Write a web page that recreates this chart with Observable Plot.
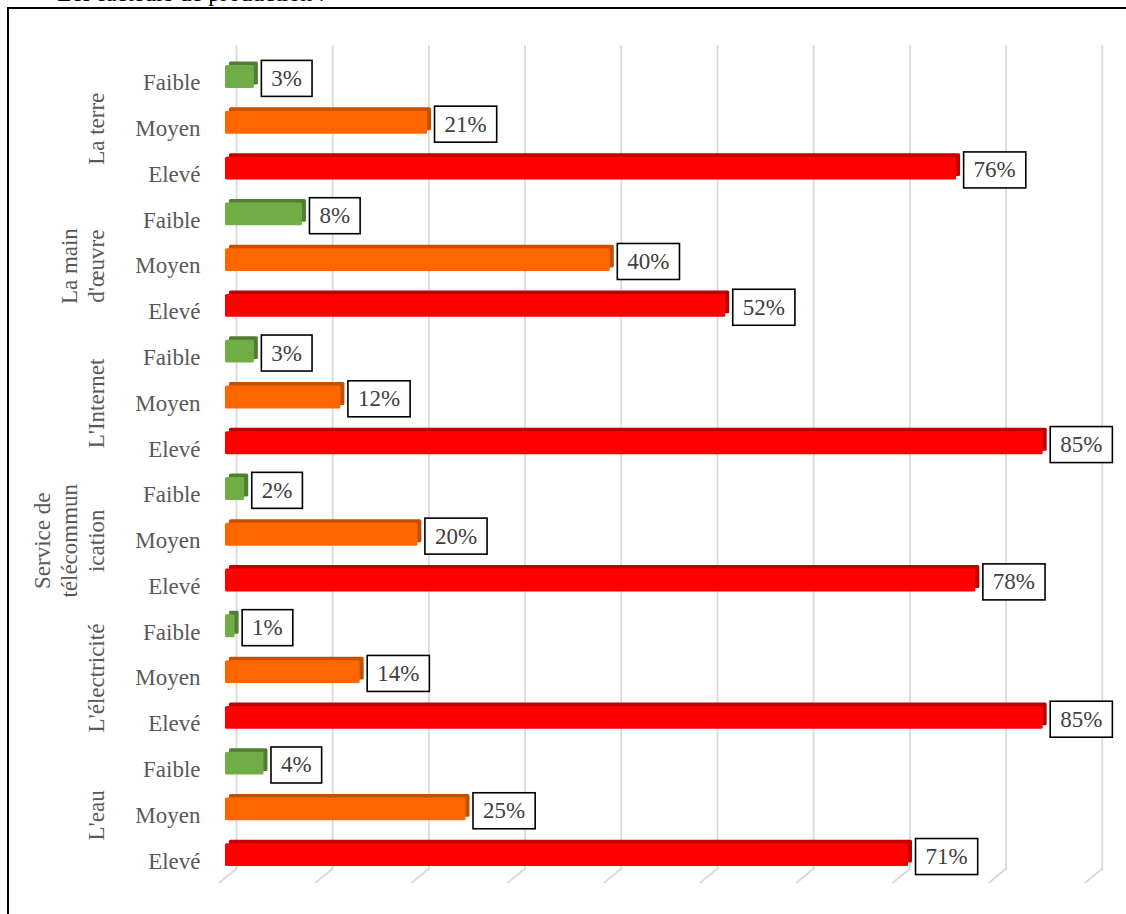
<!DOCTYPE html>
<html>
<head>
<meta charset="utf-8">
<script src="https://cdn.jsdelivr.net/npm/d3@7"></script>
<script src="https://cdn.jsdelivr.net/npm/@observablehq/plot@0.6"></script>
<style>
  html, body { margin: 0; padding: 0; background: #fff; }
  #wrap { position: relative; width: 1126px; height: 914px; overflow: hidden; }
  #title { position: absolute; left: 57px; top: -19.5px; font: 24px "Liberation Serif", "Times New Roman", serif; color: #000; line-height: 24px; white-space: nowrap; }
  #box { position: absolute; left: 7px; top: 7px; width: 2000px; height: 2000px; border-left: 2px solid #000; border-top: 2px solid #000; }
  #chart { position: absolute; left: 0; top: 0; }
  #chart svg text { font-family: "Liberation Serif", "Times New Roman", serif; }
</style>
</head>
<body>
<div id="wrap">
  <div id="title">Les facteurs de production :</div>
  <div id="box"></div>
  <div id="chart"></div>
</div>
<script>
// ---- data ----
const groups = ["La terre", "La main d'œuvre", "L'Internet", "Service de télécommunication", "L'électricité", "L'eau"];
const groupLabels = ["La terre", "La main\nd'œuvre", "L'Internet", "Service de\ntélécommun\nication", "L'électricité", "L'eau"];
const levels = ["Faible", "Moyen", "Elevé"];
const faible = [3, 8, 3, 2, 1, 4];
const moyen = [21, 40, 12, 20, 14, 25];
const eleve = [76, 52, 85, 78, 85, 71];
const gridTicks = [0, 10, 20, 30, 40, 50, 60, 70, 80, 90];

const mainColor = {"Faible": "#70ad47", "Moyen": "#ff6600", "Elevé": "#ff0000"};
const topColor = {"Faible": "#507e32", "Moyen": "#c55000", "Elevé": "#c00000"};

const seriesByLevel = {"Faible": faible, "Moyen": moyen, "Elevé": eleve};
const rows = [];
groups.forEach((g, i) => {
  levels.forEach(l => rows.push({group: g, level: l, key: g + "|" + l, value: seriesByLevel[l][i]}));
});
const keys = rows.map(d => d.key);
const groupRows = groups.map((g, i) => ({key: g + "|Moyen", label: groupLabels[i]}));

const FONT = "Liberation Serif";

function floorSlants(index, scales, values, dimensions) {
  const ns = "http://www.w3.org/2000/svg";
  const g = document.createElementNS(ns, "g");
  const yb = dimensions.height - dimensions.marginBottom;
  for (const t of gridTicks) {
    const x = scales.x(t);
    const line = document.createElementNS(ns, "line");
    line.setAttribute("x1", x + 11);
    line.setAttribute("y1", yb - 1);
    line.setAttribute("x2", x - 6);
    line.setAttribute("y2", yb + 13);
    line.setAttribute("stroke", "#d9d9d9");
    line.setAttribute("stroke-width", 1.75);
    g.appendChild(line);
  }
  return g;
}

const chart = Plot.plot({
  width: 1126,
  height: 914,
  marginLeft: 225,
  marginRight: 35.2,
  marginTop: 45,
  marginBottom: 44,
  style: {fontFamily: FONT, fontSize: "23px", background: "transparent"},
  x: {domain: [0, 90], axis: null},
  y: {domain: keys, range: [42.2, 889], padding: 0.5, round: false, axis: null},
  color: {type: "identity"},
  marks: [
    Plot.ruleX(gridTicks, {x: d => d, dx: 11, stroke: "#d9d9d9", strokeWidth: 1.75}),
    floorSlants,
    Plot.barX(rows, {x: "value", y: "key", fill: d => topColor[d.level], dx: 4, dy: -3.5, rx: 1.5}),
    Plot.barX(rows, {x: "value", y: "key", fill: d => mainColor[d.level], rx: 1.5}),
    Plot.text(rows, {y: "key", text: "level", frameAnchor: "left", dx: -25, dy: 6, textAnchor: "end", fill: "#595959", fontFamily: FONT}),
    Plot.text(groupRows, {y: "key", text: "label", frameAnchor: "left", dx: -122, dy: 6, rotate: -90, textAnchor: "middle", lineAnchor: "bottom", lineHeight: 1.16, fill: "#595959", fontFamily: FONT}),
    Plot.text(rows, {x: "value", y: "key", text: d => d.value + "%", dx: 17, dy: 1.5, textAnchor: "start", fill: "#404040", fontFamily: FONT})
  ]
});

document.getElementById("chart").appendChild(chart);

// white framed boxes behind the value labels
const ns = "http://www.w3.org/2000/svg";
Array.from(chart.querySelectorAll("text"))
  .filter(t => /%$/.test(t.textContent.trim()))
  .forEach(t => {
    const b = t.getBBox();
    const r = document.createElementNS(ns, "rect");
    r.setAttribute("x", b.x - 10);
    r.setAttribute("y", b.y + b.height / 2 - 18);
    r.setAttribute("width", b.width + 20);
    r.setAttribute("height", 36);
    r.setAttribute("fill", "#fff");
    r.setAttribute("stroke", "#000");
    r.setAttribute("stroke-width", 1.6);
    const tr = t.getAttribute("transform");
    if (tr) r.setAttribute("transform", tr);
    t.parentNode.insertBefore(r, t);
  });
</script>
</body>
</html>
